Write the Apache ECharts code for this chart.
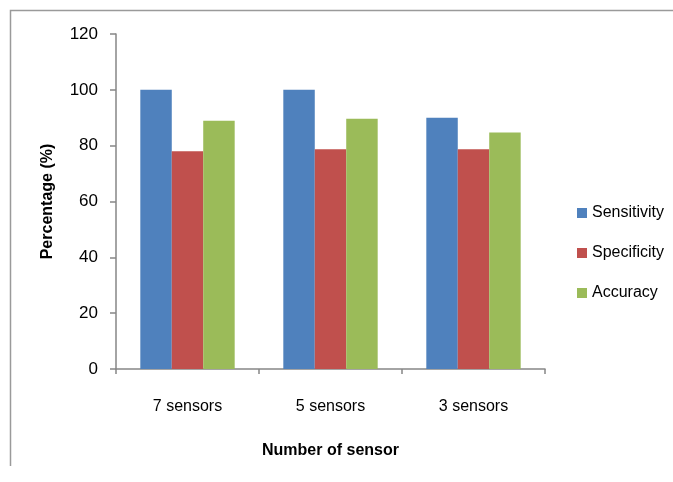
<!DOCTYPE html>
<html>
<head>
<meta charset="utf-8">
<script src="https://cdn.jsdelivr.net/npm/echarts@6/dist/echarts.min.js"></script>
<style>html,body{margin:0;padding:0;background:#fff;}#c{width:673px;height:482px;}</style>
</head>
<body>
<div id="c"></div>
<script>
var categories = ['7 sensors', '5 sensors', '3 sensors'];
var sensitivity = [100, 100, 90];
var specificity = [78, 78.7, 78.7];
var accuracy = [88.9, 89.6, 84.7];
var yTicks = [0, 20, 40, 60, 80, 100, 120];

var FONT = '"Liberation Sans", Arial, sans-serif';
var chart = echarts.init(document.getElementById('c'), null, {renderer: 'canvas'});
chart.setOption({
  animation: false,
  backgroundColor: '#ffffff',
  graphic: [{
    type: 'polyline',
    silent: true,
    shape: {points: [[10.5, 466], [10.5, 10.5], [673, 10.5]]},
    style: {stroke: '#9a9a9a', lineWidth: 1.5, fill: null}
  }],
  grid: {left: 116, right: 128, top: 34, bottom: 113},
  legend: {
    orient: 'vertical',
    left: 572,
    top: 200,
    itemWidth: 10,
    itemHeight: 10,
    itemGap: 24,
    icon: 'rect',
    textStyle: {fontFamily: FONT, fontSize: 16, color: '#000', padding: [0, 0, 0, 0]},
    data: ['Sensitivity', 'Specificity', 'Accuracy']
  },
  xAxis: {
    type: 'category',
    data: categories,
    name: 'Number of sensor',
    nameLocation: 'middle',
    nameGap: 74,
    nameTextStyle: {fontFamily: FONT, fontSize: 16, fontWeight: 'bold', color: '#000'},
    axisLine: {lineStyle: {color: '#868686', width: 1.5}},
    axisTick: {show: true, length: 5, lineStyle: {color: '#868686', width: 1.5}},
    axisLabel: {fontFamily: FONT, fontSize: 16, color: '#000', margin: 30}
  },
  yAxis: {
    type: 'value',
    min: yTicks[0],
    max: yTicks[yTicks.length - 1],
    interval: 20,
    name: 'Percentage (%)',
    nameLocation: 'middle',
    nameGap: 60,
    nameTextStyle: {fontFamily: FONT, fontSize: 16, fontWeight: 'bold', color: '#000'},
    axisLine: {show: true, lineStyle: {color: '#868686', width: 1.5}},
    axisTick: {show: true, length: 6, lineStyle: {color: '#868686', width: 1.5}},
    splitLine: {show: false},
    axisLabel: {fontFamily: FONT, fontSize: 17, color: '#000', margin: 18}
  },
  series: [
    {name: 'Sensitivity', type: 'bar', data: sensitivity, barGap: '0%', barCategoryGap: '34%', itemStyle: {color: '#4F81BD'}},
    {name: 'Specificity', type: 'bar', data: specificity, itemStyle: {color: '#C0504D'}},
    {name: 'Accuracy', type: 'bar', data: accuracy, itemStyle: {color: '#9BBB59'}}
  ]
});
</script>
</body>
</html>
